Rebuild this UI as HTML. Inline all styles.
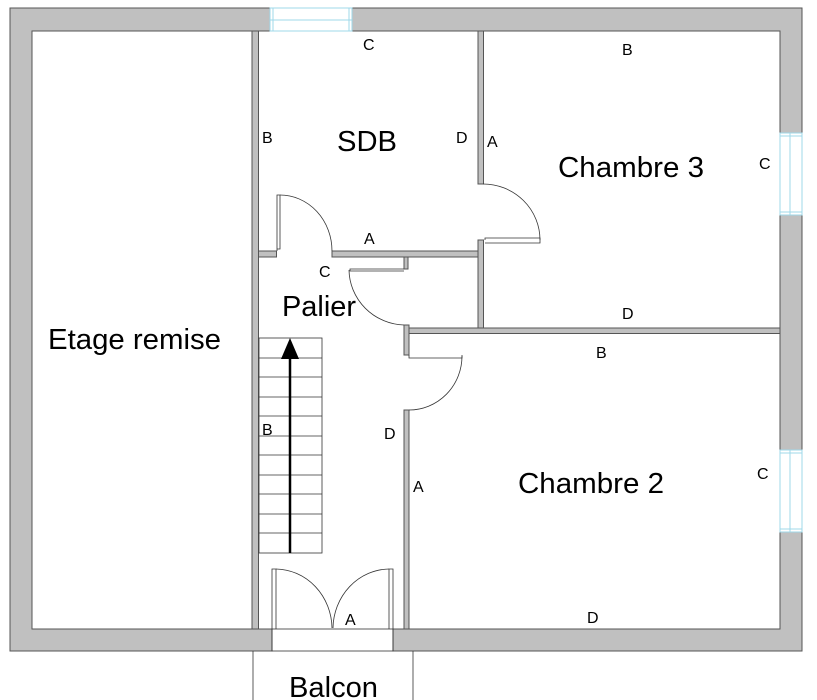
<!DOCTYPE html>
<html><head><meta charset="utf-8"><style>
html,body{margin:0;padding:0;background:#fff;}
svg{display:block;}
text{font-family:"Liberation Sans",sans-serif;fill:#000;}
</style></head><body>
<svg width="817" height="700" viewBox="0 0 817 700" xmlns="http://www.w3.org/2000/svg">
<g fill="#c0c0c0" stroke="#555" stroke-width="1">
<path d="M10,8 H802 V651 H393 V629 H780 V31 H32 V629 H272 V651 H10 Z"/>
<rect x="252" y="31" width="6.5" height="598"/>
<rect x="258.5" y="251" width="18" height="6"/>
<rect x="332" y="251" width="146" height="6"/>
<rect x="478" y="31" width="5.5" height="153"/>
<rect x="478" y="240" width="5.5" height="88"/>
<rect x="404" y="257" width="4" height="12"/>
<rect x="404" y="325" width="5" height="30"/>
<rect x="409" y="328" width="371" height="5.5"/>
<rect x="404" y="410" width="5" height="219"/>
</g>
<g fill="#fff" stroke="#9fd8ea" stroke-width="1">
<rect x="270" y="8" width="82" height="23"/>
<line x1="270" y1="20" x2="352" y2="20"/>
<line x1="273" y1="8" x2="273" y2="31"/>
<line x1="349" y1="8" x2="349" y2="31"/>
<rect x="780" y="133" width="22" height="82"/>
<line x1="790" y1="133" x2="790" y2="215"/>
<line x1="780" y1="136" x2="802" y2="136"/>
<line x1="780" y1="212" x2="802" y2="212"/>
<rect x="780" y="450" width="22" height="82"/>
<line x1="790" y1="450" x2="790" y2="532"/>
<line x1="780" y1="453" x2="802" y2="453"/>
<line x1="780" y1="529" x2="802" y2="529"/>
</g>
<g fill="none" stroke="#333" stroke-width="0.8">
<path d="M277,251 V195 H280 V249 H277"/>
<path d="M280,195 A52,56 0 0 1 332,251"/>
<path d="M485,240 V238 H540 V243 H485"/>
<path d="M483,184 A57,56 0 0 1 540,240"/>
<path d="M404,269 H350 V271 H404"/>
<path d="M349,270 A57,56 0 0 0 404,325"/>
<path d="M409,355 V358 H462 V355"/>
<path d="M462,356 A53,54 0 0 1 409,410"/>
<path d="M272,629 V569 H276 V629"/>
<path d="M389,629 V569 H393 V629"/>
<path d="M276,569 A57,60 0 0 1 332,628"/>
<path d="M389,569 A57,60 0 0 0 333,628"/>
<rect x="272" y="629" width="121" height="22"/>
<line x1="253" y1="651" x2="253" y2="700"/>
<line x1="413" y1="651" x2="413" y2="700"/>
</g>
<g fill="none" stroke="#333" stroke-width="0.8">
<rect x="259" y="338" width="63" height="215"/>
<line x1="259" y1="358" x2="322" y2="358"/>
<line x1="259" y1="377" x2="322" y2="377"/>
<line x1="259" y1="397" x2="322" y2="397"/>
<line x1="259" y1="416" x2="322" y2="416"/>
<line x1="259" y1="436" x2="322" y2="436"/>
<line x1="259" y1="455" x2="322" y2="455"/>
<line x1="259" y1="475" x2="322" y2="475"/>
<line x1="259" y1="494" x2="322" y2="494"/>
<line x1="259" y1="514" x2="322" y2="514"/>
<line x1="259" y1="533" x2="322" y2="533"/>
</g>
<line x1="290" y1="553" x2="290" y2="355" stroke="#000" stroke-width="2.5"/>
<polygon points="290,338 281,359 299,359" fill="#000"/>
<g font-size="29">
<text x="48" y="349" textLength="173" lengthAdjust="spacingAndGlyphs">Etage remise</text>
<text x="337" y="151" textLength="60" lengthAdjust="spacingAndGlyphs">SDB</text>
<text x="282" y="316" textLength="74" lengthAdjust="spacingAndGlyphs">Palier</text>
<text x="558" y="177" textLength="146" lengthAdjust="spacingAndGlyphs">Chambre 3</text>
<text x="518" y="493" textLength="146" lengthAdjust="spacingAndGlyphs">Chambre 2</text>
<text x="289" y="697" textLength="89" lengthAdjust="spacingAndGlyphs">Balcon</text>
</g>
<g font-size="16">
<text x="363" y="50">C</text>
<text x="262" y="143">B</text>
<text x="456" y="143">D</text>
<text x="487" y="147">A</text>
<text x="364" y="244">A</text>
<text x="319" y="277">C</text>
<text x="622" y="55">B</text>
<text x="759" y="169">C</text>
<text x="622" y="319">D</text>
<text x="596" y="358">B</text>
<text x="262" y="435">B</text>
<text x="384" y="439">D</text>
<text x="413" y="492">A</text>
<text x="757" y="479">C</text>
<text x="587" y="623">D</text>
<text x="345" y="625">A</text>
</g>
</svg>
</body></html>
